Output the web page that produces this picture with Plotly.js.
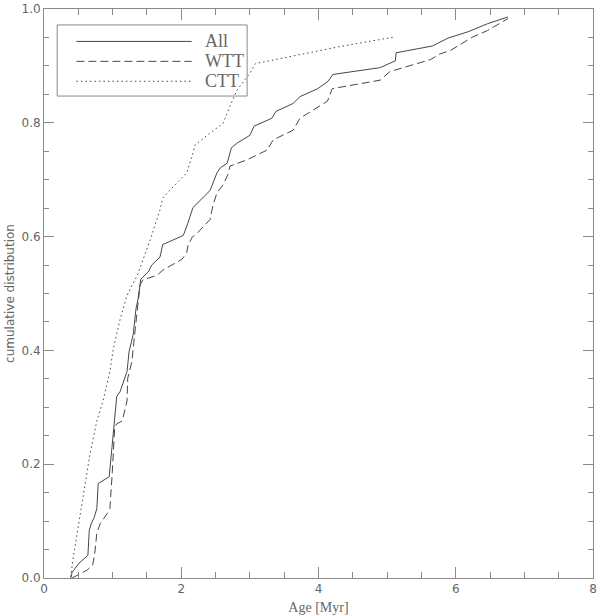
<!DOCTYPE html>
<html>
<head>
<meta charset="utf-8">
<script src="https://cdn.plot.ly/plotly-3.0.1.min.js"></script>
<style>
  html, body { margin: 0; padding: 0; background: #fff; }
  #chart { width: 600px; height: 616px; }
</style>
</head>
<body>
<div id="chart"></div>
<script>
// cumulative age distributions
var ageAll = [0.39, 0.41, 0.51, 0.64, 0.66, 0.69, 0.73, 0.77, 0.79, 0.85, 0.95, 0.99, 1.02, 1.06, 1.11,
  1.21, 1.24, 1.30, 1.34, 1.37, 1.41, 1.52, 1.57, 1.69, 1.73, 2.03, 2.10, 2.17, 2.42, 2.52, 2.57,
  2.67, 2.73, 2.81, 3.00, 3.06, 3.32, 3.38, 3.63, 3.73, 3.99, 4.14, 4.21, 4.90, 5.12, 5.13, 5.66,
  5.89, 6.18, 6.46, 6.76];
var cdfAll = [0.000, 0.010, 0.026, 0.040, 0.084, 0.096, 0.106, 0.122, 0.166, 0.171, 0.178, 0.229, 0.271, 0.319, 0.328,
  0.363, 0.398, 0.428, 0.473, 0.490, 0.525, 0.538, 0.550, 0.564, 0.586, 0.602, 0.625, 0.651, 0.681, 0.712, 0.721,
  0.729, 0.756, 0.764, 0.778, 0.794, 0.808, 0.820, 0.834, 0.846, 0.860, 0.873, 0.885, 0.897, 0.909, 0.923, 0.935,
  0.949, 0.960, 0.974, 0.986];

var ageWTT = [0.41, 0.63, 0.71, 0.74, 0.77, 0.82, 0.92, 0.96, 0.98, 0.99, 1.03, 1.06, 1.14, 1.21, 1.22,
  1.28, 1.33, 1.36, 1.40, 1.44, 1.65, 1.73, 2.01, 2.08, 2.10, 2.16, 2.24, 2.42, 2.46, 2.52, 2.61,
  2.68, 2.71, 2.96, 3.25, 3.34, 3.63, 3.73, 4.13, 4.20, 4.46, 4.90, 5.04, 5.63, 5.77, 5.92, 6.25,
  6.46, 6.76];
var cdfWTT = [0.000, 0.014, 0.023, 0.044, 0.079, 0.096, 0.113, 0.122, 0.159, 0.176, 0.264, 0.271, 0.276, 0.311, 0.351,
  0.380, 0.438, 0.473, 0.515, 0.524, 0.532, 0.541, 0.560, 0.572, 0.585, 0.599, 0.607, 0.630, 0.654, 0.677, 0.691,
  0.709, 0.724, 0.735, 0.752, 0.770, 0.787, 0.808, 0.838, 0.860, 0.866, 0.875, 0.890, 0.911, 0.921, 0.927, 0.951,
  0.962, 0.983];

var ageCTT = [0.39, 0.42, 0.67, 0.77, 0.86, 0.96, 1.01, 1.11, 1.21, 1.36, 1.43, 1.55, 1.69, 1.73, 1.94,
  2.08, 2.16, 2.20, 2.42, 2.61, 2.71, 2.81, 3.00, 3.08, 4.31, 5.12];
var cdfCTT = [0.002, 0.031, 0.218, 0.276, 0.311, 0.363, 0.403, 0.455, 0.497, 0.532, 0.555, 0.595, 0.647, 0.668, 0.695,
  0.712, 0.742, 0.761, 0.782, 0.799, 0.829, 0.857, 0.887, 0.904, 0.934, 0.951];

var yTicks = [0, 0.2, 0.4, 0.6, 0.8, 1.0];
var yTickText = ['0.0', '0.2', '0.4', '0.6', '0.8', '1.0'];

var names = ['All', 'WTT', 'CTT'];
var dashes = ['solid', '8px,4px', '1.5px,3px'];
var lineColor = '#474747';
var axisColor = '#8a8a8a';
var textColor = '#666';

var data = [
  { x: ageAll, y: cdfAll, name: names[0], type: 'scatter', mode: 'lines',
    line: { color: lineColor, width: 1, dash: dashes[0] } },
  { x: ageWTT, y: cdfWTT, name: names[1], type: 'scatter', mode: 'lines',
    line: { color: lineColor, width: 1, dash: dashes[1] } },
  { x: ageCTT, y: cdfCTT, name: names[2], type: 'scatter', mode: 'lines',
    line: { color: lineColor, width: 1, dash: dashes[2] } }
];

// legend drawn by hand so the sample lines are as long as in the figure
var legY = [0.943, 0.908, 0.873];
var shapes = [{
  type: 'rect', xref: 'paper', yref: 'paper',
  x0: 0.024, x1: 0.370, y0: 0.847, y1: 0.972,
  line: { color: axisColor, width: 1 }
}];
var annotations = [];
for (var i = 0; i < names.length; i++) {
  shapes.push({
    type: 'line', xref: 'paper', yref: 'paper',
    x0: 0.059, x1: 0.269, y0: legY[i], y1: legY[i],
    line: { color: lineColor, width: 1, dash: dashes[i] }
  });
  annotations.push({
    xref: 'paper', yref: 'paper', x: 0.29, y: legY[i],
    xanchor: 'left', yanchor: 'middle', showarrow: false,
    text: names[i],
    font: { family: 'Liberation Serif', size: 18, color: textColor }
  });
}

var layout = {
  width: 600,
  height: 616,
  showlegend: false,
  paper_bgcolor: '#fff',
  plot_bgcolor: '#fff',
  margin: { l: 44, r: 7, t: 9, b: 38 },
  font: { family: 'DejaVu Sans', size: 12, color: textColor },
  xaxis: {
    range: [0, 8],
    dtick: 2,
    showgrid: false,
    zeroline: false,
    showline: true,
    linecolor: axisColor,
    linewidth: 1,
    mirror: 'allticks',
    ticks: 'inside',
    ticklen: 11,
    tickcolor: axisColor,
    minor: { dtick: 0.5, ticks: 'inside', ticklen: 6, tickcolor: axisColor, showgrid: false },
    tickfont: { family: 'DejaVu Sans', size: 12, color: textColor },
    title: { text: 'Age [Myr]', standoff: 6,
      font: { family: 'Liberation Serif', size: 14, color: textColor } }
  },
  yaxis: {
    range: [0, 1],
    tickmode: 'array',
    tickvals: yTicks,
    ticktext: yTickText,
    ticklabeloverflow: 'allow',
    showgrid: false,
    zeroline: false,
    showline: true,
    linecolor: axisColor,
    linewidth: 1,
    mirror: 'allticks',
    ticks: 'inside',
    ticklen: 10,
    tickcolor: axisColor,
    minor: { dtick: 0.05, ticks: 'inside', ticklen: 5, tickcolor: axisColor, showgrid: false },
    tickfont: { family: 'DejaVu Sans', size: 12, color: textColor },
    title: { text: 'cumulative distribution', standoff: 4,
      font: { family: 'DejaVu Sans', size: 12, color: textColor } }
  },
  shapes: shapes,
  annotations: annotations
};

Plotly.newPlot('chart', data, layout, { displayModeBar: false, staticPlot: true });
</script>
</body>
</html>
